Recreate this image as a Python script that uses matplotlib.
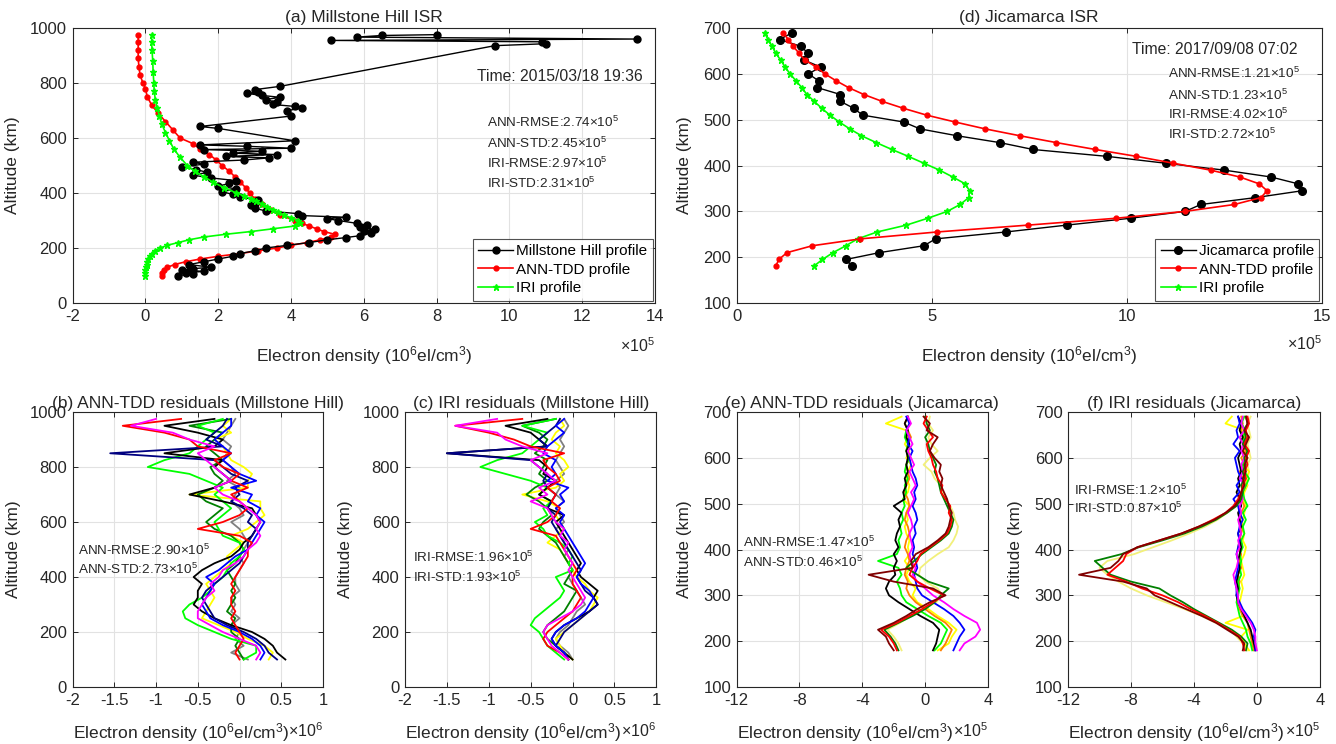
import matplotlib.pyplot as plt
import numpy as np

plt.rcParams['font.family'] = ['Liberation Sans', 'DejaVu Sans']
plt.rcParams['mathtext.fontset'] = 'custom'
plt.rcParams['mathtext.rm'] = 'Liberation Sans'
plt.rcParams['mathtext.default'] = 'regular'
plt.rcParams['axes.unicode_minus'] = False

TXT = '#262626'

# ---------------- (a) Millstone Hill profile (x1e5 el/cm3) ----------------
a_isr_alt = [100, 105, 110, 115, 120, 125, 130, 140, 150, 160, 170, 180, 190, 200, 210, 220, 230,
             238, 245, 255, 262, 268, 275, 283, 290, 300, 307, 312, 318, 325, 335, 345, 355, 365,
             375, 385, 395, 405, 415, 425, 435, 445, 455, 465, 475, 485, 495, 505, 512, 520, 528,
             533, 540, 545, 552, 558, 563, 570, 575, 590, 635, 642, 680, 700, 709, 715, 722, 730,
             740, 748, 755, 762, 768, 776, 788, 936, 943, 950, 955, 960, 967, 973, 976]
a_isr = [0.9, 1.3, 1.1, 1.6, 1.0, 1.3, 1.8, 1.2, 1.6, 2.0, 2.4, 2.6, 3.0, 3.3, 3.9, 4.5, 5.0,
         5.5, 5.9, 6.2, 6.0, 6.3, 5.9, 6.1, 5.8, 5.3, 5.0, 5.5, 4.3, 4.2, 3.3, 3.0, 2.9, 3.0,
         3.1, 2.6, 2.4, 2.1, 2.5, 2.0, 2.3, 2.5, 1.8, 1.3, 1.7, 1.4, 1.0, 1.6, 1.3, 2.7, 3.4,
         2.2, 3.6, 2.4, 3.2, 1.6, 4.0, 2.8, 1.5, 4.1, 2.0, 1.5, 4.0, 3.9, 4.3, 4.1, 3.5, 3.6,
         3.3, 3.7, 3.2, 2.8, 3.1, 3.0, 3.7, 9.6, 11.0, 10.9, 5.1, 13.5, 5.8, 6.5, 8.0]

a_ann_alt = [100, 110, 120, 130, 140, 150, 160, 170, 180, 190, 200, 210, 220, 230, 240, 250, 260,
             270, 280, 290, 300, 320, 340, 360, 380, 400, 420, 440, 460, 480, 500, 520, 540, 560,
             580, 600, 630, 660, 690, 720, 750, 780, 800, 830, 860, 890, 920, 950, 975]
a_ann = [0.45, 0.45, 0.5, 0.6, 0.8, 1.1, 1.5, 2.0, 2.6, 3.1, 3.6, 4.0, 4.45, 4.8, 5.1, 5.2, 4.9,
         4.7, 4.5, 4.3, 4.1, 3.7, 3.45, 3.2, 3.0, 2.86, 2.75, 2.6, 2.45, 2.3, 2.1, 1.95, 1.75, 1.5,
         1.3, 0.95, 0.75, 0.55, 0.35, 0.17, 0.05, 0.0, -0.07, -0.15, -0.18, -0.2, -0.2, -0.2, -0.2]

a_iri_alt = [100, 110, 120, 130, 140, 150, 160, 170, 180, 190, 200, 210, 220, 230, 240, 250, 260,
             270, 280, 290, 300, 310, 320, 330, 340, 350, 360, 370, 380, 390, 400, 420, 440, 460,
             480, 500, 530, 560, 590, 620, 650, 680, 710, 740, 770, 800, 840, 880, 920, 950, 975]
a_iri = [0.0, 0.0, 0.0, 0.02, 0.03, 0.05, 0.08, 0.12, 0.17, 0.25, 0.4, 0.6, 0.9, 1.2, 1.6, 2.2, 2.9,
         3.5, 4.1, 4.25, 4.2, 4.0, 3.8, 3.65, 3.5, 3.35, 3.2, 3.05, 2.9, 2.7, 2.5, 2.15, 1.85, 1.6,
         1.35, 1.15, 0.95, 0.78, 0.66, 0.55, 0.45, 0.38, 0.32, 0.27, 0.24, 0.23, 0.21, 0.2, 0.18, 0.17, 0.17]

# ---------------- (d) Jicamarca profile (x1e5 el/cm3) ----------------
d_alt = [180, 195, 210, 225, 240, 255, 270, 285, 300, 315, 330, 345,
         360, 375, 390, 405, 420, 435, 450, 465, 480, 495, 510, 525,
         540, 555, 570, 585, 600, 615, 630, 645, 660, 675, 690]
d_isr = [2.96, 2.8, 3.66, 4.8, 5.1, 6.9, 8.46, 10.1, 11.5, 11.9, 13.3, 14.5,
         14.4, 13.7, 12.5, 11.0, 9.5, 7.6, 6.75, 5.65, 4.7, 4.28, 3.23, 3.0,
         2.66, 2.66, 2.07, 2.1, 1.84, 2.15, 1.73, 1.83, 1.65, 1.1, 1.43]
d_ann = [1.0, 1.08, 1.29, 1.94, 3.17, 5.13, 7.47, 9.73, 11.5, 12.76, 13.44, 13.6,
         13.4, 12.9, 12.15, 11.2, 10.25, 9.2, 8.2, 7.26, 6.37, 5.6, 4.87, 4.27,
         3.73, 3.26, 2.87, 2.55, 2.26, 2.04, 1.75, 1.6, 1.45, 1.32, 1.2]
d_iri = [1.97, 2.2, 2.47, 2.8, 3.1, 3.6, 4.35, 4.9, 5.4, 5.73, 5.95, 5.97,
         5.86, 5.54, 5.2, 4.8, 4.4, 3.98, 3.58, 3.2, 2.9, 2.63, 2.39, 2.18,
         1.99, 1.8, 1.67, 1.52, 1.37, 1.24, 1.13, 1.0, 0.91, 0.8, 0.72]

# ---------------- (b)/(c) Millstone Hill residuals (x1e6) ----------------
mh_alt = [100, 125, 150, 175, 200, 225, 250, 275, 300, 325, 350, 375,
          400, 425, 450, 475, 500, 525, 550, 575, 600, 625, 650, 675,
          700, 725, 750, 775, 800, 825, 850, 875, 900, 925, 950, 975]

b_black = [0.55, 0.45, 0.40, 0.30, 0.15, -0.10, -0.30, -0.45, -0.55, -0.50, -0.50, -0.45,
           -0.55, -0.45, -0.30, -0.10, 0.00, 0.05, 0.15, 0.20, 0.25, 0.20, 0.15, -0.20,
           -0.60, -0.30, -0.10, -0.20, -0.30, -0.20, -0.90, -0.30, -0.20, -0.50, -0.90, -0.30]
b_green = [0.05, 0.20, 0.20, -0.10, -0.30, -0.50, -0.65, -0.68, -0.60, -0.45, -0.35, -0.30,
           -0.20, -0.15, -0.10, 0.00, 0.05, 0.00, -0.20, -0.25, -0.30, -0.20, -0.10, -0.20,
           -0.30, -0.20, -0.40, -0.60, -1.10, -0.90, -0.60, -0.50, -0.40, -0.30, -0.50, -0.20]
b_red = [0.00, -0.05, 0.00, 0.05, 0.00, -0.05, -0.10, -0.05, -0.10, -0.10, -0.05, -0.10,
         -0.05, 0.00, 0.05, 0.10, 0.10, 0.15, 0.00, -0.50, -0.20, 0.00, 0.10, 0.00,
         -0.10, 0.10, -0.10, 0.00, -0.20, -0.30, -0.10, -0.50, -0.60, -0.90, -1.40, -0.70]
b_blue = [0.25, 0.30, 0.25, 0.15, 0.00, -0.20, -0.35, -0.40, -0.45, -0.40, -0.35, -0.30,
          -0.40, -0.25, -0.15, -0.05, 0.10, 0.15, 0.20, 0.25, 0.30, 0.20, 0.25, 0.10,
          0.15, -0.10, 0.20, 0.00, -0.10, -0.20, -0.10, -0.20, -0.30, -0.20, -0.10, -0.10]
b_yellow = [0.35, 0.40, 0.30, 0.10, -0.05, -0.25, -0.45, -0.40, -0.35, -0.30, -0.35, -0.40,
            -0.30, -0.20, -0.10, -0.15, -0.05, 0.05, -0.10, 0.10, 0.20, 0.30, 0.25, 0.25,
            -0.60, 0.10, 0.10, 0.15, 0.05, -0.10, -0.15, -0.20, -0.30, -0.10, -0.20, -0.10]
b_magenta = [0.20, 0.25, 0.20, 0.00, -0.20, -0.35, -0.50, -0.50, -0.45, -0.40, -0.30, -0.35,
             -0.25, -0.20, -0.05, 0.05, 0.10, 0.20, 0.25, 0.20, 0.25, 0.20, 0.10, 0.00,
             -0.20, -0.30, -0.10, -0.20, -0.30, -0.40, -0.50, -0.30, -0.60, -0.80, -1.30, -1.00]
b_dkgreen = [0.05, 0.00, -0.05, 0.00, -0.10, -0.10, -0.05, -0.15, -0.10, -0.05, -0.10, -0.05,
             -0.10, -0.15, -0.05, 0.00, 0.05, 0.00, -0.10, -0.30, -0.40, -0.30, -0.20, -0.40,
             -0.50, -0.30, -0.20, -0.30, -0.35, -0.20, -0.30, -0.40, -0.30, -0.20, -0.60, -0.10]
b_gray = [0.10, -0.10, 0.05, -0.05, 0.00, -0.10, 0.00, -0.10, -0.05, -0.10, 0.00, -0.05,
          -0.05, 0.00, 0.05, 0.00, 0.05, 0.10, 0.05, 0.00, -0.10, 0.05, 0.00, -0.10,
          -0.05, 0.00, -0.15, -0.05, -0.10, -0.20, -0.15, -0.10, -0.20, -0.15, -0.10, -0.05]
b_navy = [0.45, 0.35, 0.30, 0.20, 0.05, -0.15, -0.30, -0.35, -0.40, -0.45, -0.40, -0.30,
          -0.20, -0.10, 0.00, 0.05, 0.10, 0.10, 0.15, 0.20, 0.10, 0.15, 0.05, -0.10,
          0.00, -0.05, 0.10, -0.10, -0.20, -0.30, -1.55, -0.20, -0.40, -0.30, -0.20, -0.15]

c_black = [0.00, -0.10, -0.20, -0.25, -0.20, -0.10, 0.05, 0.20, 0.30, 0.25, 0.30, 0.20,
           0.10, 0.05, 0.10, 0.05, 0.00, -0.05, -0.10, -0.15, -0.20, -0.10, -0.30, -0.25,
           -0.40, -0.30, -0.20, -0.35, -0.30, -0.40, -1.50, -0.30, -0.40, -0.50, -0.80, -0.30]
c_green = [-0.10, -0.20, -0.30, -0.35, -0.40, -0.50, -0.45, -0.35, -0.25, -0.15, -0.10, -0.15,
           -0.20, 0.00, -0.05, 0.00, -0.05, -0.15, -0.30, -0.35, -0.45, -0.30, -0.35, -0.25,
           -0.40, -0.30, -0.50, -0.80, -1.10, -0.90, -0.60, -0.50, -0.40, -0.30, -0.60, -0.20]
c_red = [-0.05, -0.15, -0.30, -0.35, -0.30, -0.20, -0.10, 0.00, 0.05, 0.10, 0.05, 0.00,
         0.00, 0.05, 0.00, -0.05, -0.10, -0.15, -0.20, -0.50, -0.30, -0.20, -0.15, -0.25,
         -0.20, -0.30, -0.15, -0.20, -0.30, -0.35, -0.10, -0.50, -0.70, -1.00, -1.40, -0.60]
c_blue = [-0.05, -0.10, -0.20, -0.25, -0.20, -0.10, 0.05, 0.15, 0.20, 0.25, 0.20, 0.10,
          0.05, 0.10, 0.15, 0.10, 0.05, 0.00, -0.05, -0.10, -0.15, -0.10, -0.20, -0.10,
          -0.15, -0.05, -0.30, -0.20, -0.25, -0.20, -0.35, -0.30, -0.20, -0.10, -0.20, -0.10]
c_yellow = [0.00, -0.10, -0.15, -0.20, -0.10, 0.00, 0.10, 0.20, 0.25, 0.30, 0.20, 0.15,
            0.05, 0.00, -0.05, -0.10, -0.15, -0.30, -0.20, -0.10, -0.15, -0.20, -0.15, -0.30,
            -0.60, -0.20, -0.10, -0.15, -0.05, -0.10, -0.20, -0.15, -0.25, -0.20, -0.10, -0.15]
c_magenta = [-0.05, -0.15, -0.25, -0.30, -0.35, -0.30, -0.15, 0.00, 0.10, 0.15, 0.10, 0.05,
             0.00, -0.05, 0.00, -0.05, -0.10, -0.05, -0.15, -0.10, -0.20, -0.25, -0.30, -0.50,
             -0.30, -0.40, -0.20, -0.30, -0.40, -0.50, -0.30, -0.60, -0.80, -0.90, -1.40, -0.90]
c_dkgreen = [-0.05, -0.10, -0.20, -0.30, -0.35, -0.30, -0.20, -0.10, -0.05, 0.00, 0.05, -0.10,
             -0.05, 0.00, -0.05, -0.10, -0.15, -0.20, -0.30, -0.40, -0.35, -0.25, -0.30, -0.40,
             -0.55, -0.45, -0.30, -0.40, -0.35, -0.30, -0.45, -0.35, -0.30, -0.40, -0.60, -0.20]
c_gray = [0.00, -0.05, -0.15, -0.20, -0.15, -0.05, 0.00, 0.05, 0.15, 0.10, 0.05, 0.00,
          -0.05, 0.00, -0.05, -0.10, -0.05, -0.10, -0.15, -0.20, -0.10, -0.15, -0.20, -0.10,
          -0.20, -0.15, -0.20, -0.10, -0.15, -0.20, -0.15, -0.10, -0.15, -0.10, -0.05, -0.10]
c_navy = [-0.05, -0.10, -0.20, -0.15, -0.10, 0.00, 0.10, 0.20, 0.30, 0.25, 0.15, 0.10,
          0.05, 0.10, 0.05, 0.00, -0.05, -0.10, -0.15, -0.20, -0.25, -0.20, -0.30, -0.25,
          -0.20, -0.30, -0.35, -0.30, -0.40, -0.50, -1.50, -0.30, -0.40, -0.30, -0.20, -0.15]

# ---------------- (e)/(f) Jicamarca residuals (x1e5) ----------------
e_blue = [1.8, 2.0, 2.2, 2.5, 2.2, 1.8, 1.2, 0.5, -0.2, -0.5, -0.6, -0.7,
          -0.5, -0.6, -0.8, -0.7, -0.8, -0.6, -0.7, -0.5, -0.6, -0.8, -0.6, -0.7,
          -0.5, -0.6, -0.8, -0.9, -1.0, -0.8, -1.1, -1.0, -1.2, -1.0, -1.2]
e_magenta = [2.2, 2.5, 3.2, 3.5, 3.3, 2.5, 1.8, 1.2, 0.5, 0.0, -0.5, -0.8,
             -0.6, -0.9, -1.0, -0.8, -0.9, -1.0, -0.8, -0.9, -1.1, -0.9, -0.7, -0.9,
             -0.6, -0.8, -1.0, -0.7, -0.9, -1.1, -0.8, -1.0, -1.2, -0.9, -1.1]
e_yellow = [0.8, 1.5, 1.7, 2.0, 1.5, 0.8, 0.2, -0.5, -0.8, -0.6, -1.0, -1.2,
            -1.0, -1.3, -1.0, -1.1, -1.0, -1.2, -1.3, -1.1, -1.2, -1.0, -1.4, -1.1,
            -1.0, -1.2, -1.1, -0.9, -1.2, -1.0, -1.3, -1.1, -1.2, -2.5, -1.5]
e_orange = [1.0, 1.3, 1.5, 1.7, 1.3, 0.6, 0.0, -0.6, -1.0, -1.2, -1.1, -1.3,
            -1.2, -1.0, -1.1, -1.3, -1.2, -1.0, -1.1, -1.3, -1.2, -1.0, -1.1, -1.3,
            -1.2, -1.0, -1.1, -1.2, -1.0, -1.2, -1.1, -0.9, -1.1, -1.3, -1.1]
e_lime = [0.6, 1.0, 1.2, 1.4, 1.0, 0.2, -0.5, -1.2, -1.5, -1.6, -1.8, -1.5,
          -1.7, -3.0, -1.8, -1.6, -1.7, -1.5, -1.6, -1.4, -1.5, -1.3, -1.4, -1.2,
          -1.3, -1.1, -1.3, -1.2, -1.0, -1.2, -1.1, -1.3, -1.2, -1.0, -1.1]
e_black = [0.5, 0.7, 0.8, 0.9, 0.5, -0.3, -1.0, -1.7, -2.3, -2.5, -2.3, -1.9,
           -2.0, -1.8, -2.0, -1.7, -1.9, -1.8, -1.6, -1.7, -1.5, -2.0, -1.3, -1.4,
           -1.2, -1.3, -1.1, -1.2, -1.1, -1.2, -1.0, -1.2, -1.1, -1.3, -1.1]
e_red = [-1.8, -2.0, -2.3, -2.8, -1.8, -1.0, -0.2, 0.5, 1.2, 0.3, -0.5, -1.0,
         -0.8, -0.5, -0.3, 0.3, 0.9, 1.4, 1.6, 1.7, 1.5, 1.6, 1.3, 1.0,
         1.1, 0.8, 0.7, 0.5, 0.4, 0.2, 0.1, 0.5, 0.2, -0.1, 0.1]
e_dkred = [-2.0, -2.3, -2.5, -3.0, -2.0, -1.2, -0.5, 0.3, 1.3, 0.5, -2.0, -3.6,
           -0.8, -0.9, -0.6, 0.2, 0.8, 1.3, 1.5, 1.6, 1.7, 1.5, 1.4, 1.2,
           1.0, 1.1, 0.9, 1.0, 0.6, 0.3, 0.5, 0.8, 0.1, 0.3, -0.1]
e_dkgreen = [-1.7, -1.9, -2.2, -2.6, -1.7, -0.8, 0.0, 0.6, 1.0, 1.5, 0.2, -0.5,
             -1.2, -0.7, -0.2, 0.4, 1.0, 1.5, 1.7, 1.8, 1.6, 1.4, 1.2, 1.0,
             0.9, 0.8, 0.6, 0.7, 0.5, 0.3, 0.2, 0.0, 0.3, 0.1, 0.0]
e_ltyellow = [-1.5, -1.7, -2.0, -2.4, -1.6, -0.9, -0.1, 0.7, 1.1, 0.8, 0.0, -0.4,
              -0.3, 0.2, 0.8, 1.5, 1.8, 2.0, 2.1, 1.9, 1.8, 1.6, 1.3, 1.1,
              1.0, 0.6, 0.4, -0.1, 0.3, 0.8, 0.4, 0.2, 0.5, 0.2, 0.3]

f_blue = [-0.1, -0.1, -0.2, -0.1, -0.3, -0.6, -0.9, -1.1, -1.3, -1.3, -1.4, -1.3,
          -1.2, -1.2, -1.3, -1.2, -1.1, -1.2, -1.1, -0.9, -1.1, -1.2, -1.5, -1.1,
          -1.3, -1.0, -1.2, -1.3, -1.4, -1.1, -1.5, -1.2, -1.3, -1.1, -1.2]
f_magenta = [0.0, -0.1, -0.1, -0.2, -0.4, -0.7, -1.0, -1.2, -1.2, -1.3, -1.4, -1.5,
             -1.3, -1.2, -1.3, -1.1, -1.2, -1.0, -1.1, -1.2, -1.0, -1.1, -0.9, -1.0,
             -0.8, -1.1, -0.9, -1.0, -0.8, -1.0, -0.9, -1.1, -0.8, -1.0, -0.9]
f_lime = [-0.3, -0.4, -0.6, -0.7, -0.9, -1.1, -1.2, -1.3, -1.2, -1.1, -1.2, -1.0,
          -1.1, -1.0, -1.1, -0.9, -1.0, -0.8, -0.9, -0.7, -0.9, -0.6, -0.8, -0.9,
          -0.7, -0.5, -0.8, -0.9, -0.7, -0.6, -0.8, -0.9, -0.7, -1.0, -0.8]
f_orange = [-0.2, -0.3, -0.4, -0.5, -0.6, -0.9, -1.1, -1.2, -1.3, -1.2, -1.1, -1.2,
            -1.0, -1.1, -1.0, -1.2, -1.1, -1.0, -0.9, -1.1, -1.0, -0.8, -1.0, -0.9,
            -0.7, -0.9, -1.1, -0.8, -1.0, -0.7, -0.9, -0.8, -1.0, -0.9, -1.0]
f_black = [-0.1, -0.2, -0.3, -0.4, -0.6, -0.8, -1.0, -1.2, -1.3, -1.2, -1.3, -1.2,
           -1.1, -1.2, -1.1, -1.0, -1.1, -1.2, -1.0, -1.1, -1.2, -1.0, -1.1, -1.3,
           -1.1, -1.2, -1.0, -1.1, -1.2, -1.0, -1.1, -0.9, -1.1, -1.0, -1.2]
f_yellow = [-0.5, -0.8, -1.0, -0.6, -2.0, -0.9, -1.0, -1.1, -1.0, -0.9, -1.0, -0.8,
            -0.9, -1.0, -0.8, -0.7, -0.9, -0.8, -1.0, -0.9, -0.8, -0.7, -0.9, -0.8,
            -0.6, -0.7, -0.5, -0.9, -0.6, -0.8, -0.7, -0.9, -0.8, -2.0, -1.6]
f_dkred = [-0.9, -0.8, -1.2, -1.9, -2.6, -3.5, -4.5, -5.5, -6.5, -7.0, -8.5, -11.3,
           -9.3, -8.8, -8.5, -7.6, -6.2, -4.8, -3.7, -2.7, -2.0, -1.4, -1.1, -1.0,
           -0.8, -0.9, -0.7, -0.8, -0.6, -0.9, -0.7, -0.5, -0.8, -0.6, -0.7]
f_dkgreen = [-0.7, -0.6, -1.0, -1.6, -2.4, -3.2, -4.0, -4.7, -5.5, -6.2, -8.0, -9.3,
             -9.8, -10.3, -8.6, -7.5, -6.0, -4.6, -3.5, -2.6, -1.9, -1.3, -1.0, -0.9,
             -1.0, -0.8, -0.9, -0.7, -0.8, -0.6, -0.9, -0.7, -0.8, -0.6, -0.7]
f_red = [-0.8, -0.9, -1.1, -1.8, -2.5, -3.3, -4.2, -5.0, -6.0, -7.3, -8.3, -9.5,
         -9.0, -8.5, -8.3, -7.6, -6.2, -4.8, -3.7, -2.8, -2.0, -1.5, -1.2, -1.0,
         -0.9, -0.7, -0.8, -0.6, -0.7, -0.5, -0.8, -0.6, -0.7, -0.5, -0.6]
f_ltyellow = [-0.6, -0.9, -1.3, -1.7, -2.6, -3.5, -4.6, -5.8, -7.0, -8.0, -8.8, -9.5,
              -10.0, -9.5, -7.8, -6.6, -5.4, -4.3, -3.3, -2.5, -1.9, -1.4, -1.1, -0.9,
              -0.7, -0.6, -0.5, -0.6, -0.4, -0.5, -0.6, -0.4, -0.5, -0.6, -0.4]

xlab = 'Electron density (10$^6$el/cm$^3$)'


def style(ax, xlim, xticks, ylim, yticks, xticklabels=None):
    ax.set_xlim(xlim)
    ax.set_ylim(ylim)
    ax.set_xticks(xticks)
    if xticklabels is not None:
        ax.set_xticklabels(xticklabels)
    ax.set_yticks(yticks)
    ax.grid(True, color='#e2e2e2', lw=0.8)
    ax.set_axisbelow(True)
    ax.tick_params(direction='in', length=3.5, width=0.7, colors=TXT, labelsize=12,
                   top=True, right=True, pad=4)
    for s in ax.spines.values():
        s.set_color('#262626')
        s.set_linewidth(0.8)


fig = plt.figure(figsize=(13.36, 7.44), dpi=100)

# ---------- (a) ----------
ax = fig.add_axes([0.0544, 0.5927, 0.4359, 0.3696])
ax.plot(a_ann, a_ann_alt, '-o', color='#ff0000', ms=3.5, lw=1.2, label='ANN-TDD profile')
ax.plot(a_isr, a_isr_alt, '-o', color='k', ms=5, lw=1.0, label='Millstone Hill profile')
ax.plot(a_iri, a_iri_alt, '-*', color='#00ff00', ms=5, lw=1.2, label='IRI profile')
style(ax, (-2, 14), range(-2, 15, 2), (0, 1000), range(0, 1001, 200))
ax.set_title('(a) Millstone Hill ISR', fontsize=12.5, color=TXT, pad=4)
ax.set_ylabel('Altitude (km)', fontsize=12.5, color=TXT)
ax.yaxis.set_label_coords(-0.09, 0.5)
ax.set_xlabel(xlab, fontsize=12.5, color=TXT)
ax.xaxis.set_label_coords(0.5, -0.15)
ax.text(1.0, -0.155, '×10$^5$', transform=ax.transAxes, ha='right', va='center', fontsize=11.5, color=TXT)
ax.text(9.1, 824, 'Time: 2015/03/18 19:36', fontsize=11.3, color=TXT, va='center')
for txt, yy in zip(['ANN-RMSE:2.74×10$^5$', 'ANN-STD:2.45×10$^5$', 'IRI-RMSE:2.97×10$^5$', 'IRI-STD:2.31×10$^5$'],
                   [657, 582, 509, 436]):
    ax.text(9.37, yy, txt, fontsize=9.7, color=TXT, va='center')
h, l = ax.get_legend_handles_labels()
leg = ax.legend([h[1], h[0], h[2]], [l[1], l[0], l[2]], loc='lower right', fontsize=11,
                fancybox=False, edgecolor='#262626', borderaxespad=0.15, handlelength=2.3,
                handletextpad=0.2, labelspacing=0.3, borderpad=0.35)
leg.get_frame().set_linewidth(0.8)

# ---------- (d) ----------
ax = fig.add_axes([0.5514, 0.5927, 0.4379, 0.3696])
ax.plot(d_iri, d_alt, '-*', color='#00ff00', ms=5, lw=1.2, label='IRI profile')
ax.plot(d_isr, d_alt, '-o', color='k', ms=5.5, lw=1.0, label='Jicamarca profile')
ax.plot(d_ann, d_alt, '-o', color='#ff0000', ms=3.5, lw=1.2, label='ANN-TDD profile')
style(ax, (0, 15), [0, 5, 10, 15], (100, 700), range(100, 701, 100))
ax.set_title('(d) Jicamarca ISR', fontsize=12.5, color=TXT, pad=4)
ax.set_ylabel('Altitude (km)', fontsize=12.5, color=TXT)
ax.yaxis.set_label_coords(-0.076, 0.5)
ax.set_xlabel(xlab, fontsize=12.5, color=TXT)
ax.xaxis.set_label_coords(0.5, -0.15)
ax.text(1.0, -0.148, '×10$^5$', transform=ax.transAxes, ha='right', va='center', fontsize=11.5, color=TXT)
ax.text(10.14, 654, 'Time: 2017/09/08 07:02', fontsize=11.3, color=TXT, va='center')
for txt, yy in zip(['ANN-RMSE:1.21×10$^5$', 'ANN-STD:1.23×10$^5$', 'IRI-RMSE:4.02×10$^5$', 'IRI-STD:2.72×10$^5$'],
                   [600, 554, 511, 467]):
    ax.text(11.07, yy, txt, fontsize=9.7, color=TXT, va='center')
h, l = ax.get_legend_handles_labels()
leg = ax.legend([h[1], h[2], h[0]], [l[1], l[2], l[0]], loc='lower right', fontsize=11,
                fancybox=False, edgecolor='#262626', borderaxespad=0.15, handlelength=2.3,
                handletextpad=0.2, labelspacing=0.3, borderpad=0.35)
leg.get_frame().set_linewidth(0.8)

# ---------- residual panels ----------
mh_colors = ['#808080', '#ffff00', '#008000', '#00ff00', '#000000', '#000080', '#0000ff', '#ff0000', '#ff00ff']
b_lines = [b_gray, b_yellow, b_dkgreen, b_green, b_black, b_navy, b_blue, b_red, b_magenta]
c_lines = [c_gray, c_yellow, c_dkgreen, c_green, c_black, c_navy, c_blue, c_red, c_magenta]
j_colors = ['#f2f07a', '#ffff00', '#ff8000', '#00ff00', '#000000', '#0000ff', '#ff00ff',
            '#008000', '#ff0000', '#800000']
e_lines = [e_ltyellow, e_yellow, e_orange, e_lime, e_black, e_blue, e_magenta, e_dkgreen, e_red, e_dkred]
f_lines = [f_ltyellow, f_yellow, f_orange, f_lime, f_black, f_blue, f_magenta, f_dkgreen, f_red, f_dkred]

mh_ticks = [-2, -1.5, -1, -0.5, 0, 0.5, 1]
mh_ticklabels = ['-2', '-1.5', '-1', '-0.5', '0', '0.5', '1']

panels = [
    ([0.0544, 0.0766, 0.1873, 0.3696], '(b) ANN-TDD residuals (Millstone Hill)', b_lines, mh_colors, mh_alt,
     'mh', ['ANN-RMSE:2.90×10$^5$', 'ANN-STD:2.73×10$^5$'], -1.94, [497, 427], '×10$^6$', -0.208),
    ([0.3031, 0.0766, 0.1882, 0.3696], '(c) IRI residuals (Millstone Hill)', c_lines, mh_colors, mh_alt,
     'mh', ['IRI-RMSE:1.96×10$^5$', 'IRI-STD:1.93×10$^5$'], -1.9, [473, 400], '×10$^6$', -0.207),
    ([0.5514, 0.0766, 0.1881, 0.3696], '(e) ANN-TDD residuals (Jicamarca)', e_lines, j_colors, d_alt,
     'j', ['ANN-RMSE:1.47×10$^5$', 'ANN-STD:0.46×10$^5$'], -11.6, [416, 372], '×10$^5$', -0.178),
    ([0.7994, 0.0766, 0.1886, 0.3696], '(f) IRI residuals (Jicamarca)', f_lines, j_colors, d_alt,
     'j', ['IRI-RMSE:1.2×10$^5$', 'IRI-STD:0.87×10$^5$'], -11.6, [528, 489], '×10$^5$', -0.179),
]

for rect, title, lines, cols, alts, kind, notes, nx, nys, mult, ylx in panels:
    ax = fig.add_axes(rect)
    for vals, c in zip(lines, cols):
        ax.plot(vals, alts, color=c, lw=1.3)
    if kind == 'mh':
        style(ax, (-2, 1), mh_ticks, (0, 1000), range(0, 1001, 200), mh_ticklabels)
    else:
        style(ax, (-12, 4), [-12, -8, -4, 0, 4], (100, 700), range(100, 701, 100))
    ax.set_title(title, fontsize=12.5, color=TXT, pad=3)
    ax.set_ylabel('Altitude (km)', fontsize=12.5, color=TXT)
    ax.yaxis.set_label_coords(ylx, 0.5)
    ax.text(0.0, -0.165, xlab, transform=ax.transAxes, ha='left', va='center', fontsize=12.5, color=TXT)
    ax.text(1.0, -0.16, mult, transform=ax.transAxes, ha='right', va='center', fontsize=11.5, color=TXT)
    for txt, yy in zip(notes, nys):
        ax.text(nx, yy, txt, fontsize=9.7, color=TXT, va='center')

fig.savefig('out.png', dpi=100)
